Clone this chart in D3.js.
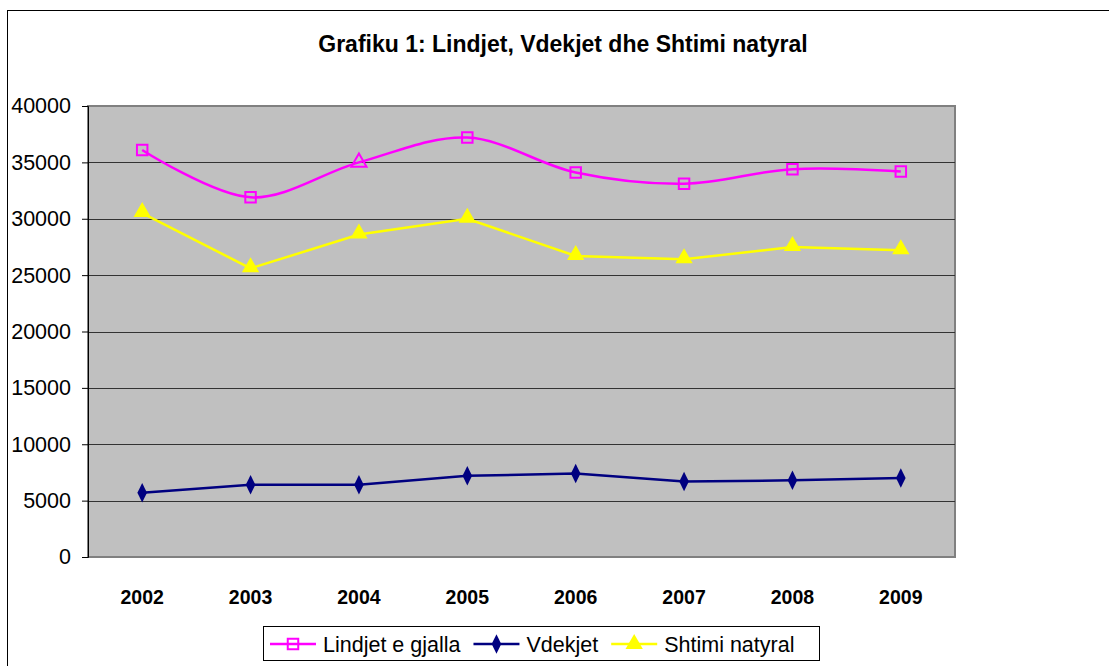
<!DOCTYPE html>
<html lang="en">
<head>
<meta charset="UTF-8">
<title>Grafiku 1</title>
<script src="https://cdn.jsdelivr.net/npm/d3@7"></script>
<style>
  body { margin: 0; background: #fff; }
  text { font-family: Arial, "Liberation Sans", sans-serif; }
</style>
</head>
<body>
<div id="container"></div>
<script>
const years = ["2002", "2003", "2004", "2005", "2006", "2007", "2008", "2009"];
const lindjet = [36100, 31900, 35000, 37200, 34100, 33100, 34400, 34200];
const vdekjet = [5700, 6400, 6400, 7200, 7400, 6700, 6800, 7000];
const shtimi = [30500, 25600, 28600, 30000, 26700, 26400, 27500, 27200];
const yTicks = [0, 5000, 10000, 15000, 20000, 25000, 30000, 35000, 40000];
const seriesNames = ["Lindjet e gjalla", "Vdekjet", "Shtimi natyral"];

const W = 1109, H = 666;
const plot = { left: 88, top: 106, right: 955, bottom: 557 };

const svg = d3.select("#container").append("svg")
  .attr("width", W).attr("height", H);

// outer frame
svg.append("rect")
  .attr("x", 7.5).attr("y", 10.5)
  .attr("width", W + 10).attr("height", H + 10)
  .attr("fill", "#fff").attr("stroke", "#000").attr("stroke-width", 1);

svg.append("text")
  .attr("x", 563).attr("y", 52)
  .attr("text-anchor", "middle")
  .attr("font-size", 23).attr("font-weight", "bold")
  .text("Grafiku 1: Lindjet, Vdekjet dhe Shtimi natyral");

const x = d3.scalePoint().domain(years)
  .range([plot.left, plot.right]).padding(0.5);
const y = d3.scaleLinear().domain([0, 40000])
  .range([plot.bottom, plot.top]);

// plot area
svg.append("rect")
  .attr("x", plot.left).attr("y", plot.top)
  .attr("width", plot.right - plot.left).attr("height", plot.bottom - plot.top)
  .attr("fill", "#c0c0c0").attr("stroke", "#808080").attr("stroke-width", 2);

// gridlines
svg.append("g").selectAll("line")
  .data(yTicks.filter(d => d > 0 && d < 40000))
  .enter().append("line")
  .attr("x1", plot.left).attr("x2", plot.right)
  .attr("y1", d => Math.round(y(d)) + 0.5).attr("y2", d => Math.round(y(d)) + 0.5)
  .attr("stroke", "#333").attr("stroke-width", 1);

// y axis
const yAxis = svg.append("g")
  .attr("transform", `translate(${plot.left},0)`)
  .call(d3.axisLeft(y).tickValues(yTicks).tickSize(6).tickPadding(11).tickFormat(d3.format("d")));
yAxis.selectAll("text").attr("font-size", 21.5).attr("fill", "#000")
  .attr("font-family", "Arial, 'Liberation Sans', sans-serif");
yAxis.selectAll("line, path").attr("stroke", "#000");

// x labels
svg.append("g").selectAll("text")
  .data(years).enter().append("text")
  .attr("x", d => x(d)).attr("y", 604)
  .attr("text-anchor", "middle")
  .attr("font-size", 19.5).attr("font-weight", "bold")
  .text(d => d);

const colors = ["#ff00ff", "#000080", "#ffff00"];

const smooth = d3.line().x((d, i) => x(years[i])).y(d => y(d)).curve(d3.curveCatmullRom.alpha(0.5));
const straight = d3.line().x((d, i) => x(years[i])).y(d => y(d));

svg.append("path").attr("d", smooth(lindjet))
  .attr("fill", "none").attr("stroke", colors[0]).attr("stroke-width", 2.5);
svg.append("path").attr("d", straight(vdekjet))
  .attr("fill", "none").attr("stroke", colors[1]).attr("stroke-width", 2.5);
svg.append("path").attr("d", straight(shtimi))
  .attr("fill", "none").attr("stroke", colors[2]).attr("stroke-width", 2.5);

const sq = d3.symbol().type(d3.symbolSquare).size(110);
const dia = d3.symbol().type(d3.symbolDiamond).size(110);
const tri = d3.symbol().type(d3.symbolTriangle).size(130);
const triSmall = d3.symbol().type(d3.symbolTriangle).size(100);

// markers
svg.append("g").selectAll("path")
  .data(lindjet).enter().append("path")
  .attr("transform", (d, i) => `translate(${x(years[i])},${y(d)})`)
  .attr("d", (d, i) => i === 2 ? triSmall() : sq())
  .attr("fill", "none").attr("stroke", colors[0]).attr("stroke-width", 2);
svg.append("g").selectAll("path")
  .data(vdekjet).enter().append("path")
  .attr("transform", (d, i) => `translate(${x(years[i])},${y(d)}) scale(0.85,1)`)
  .attr("d", dia()).attr("fill", colors[1]);
svg.append("g").selectAll("path")
  .data(shtimi).enter().append("path")
  .attr("transform", (d, i) => `translate(${x(years[i])},${y(d) - 1})`)
  .attr("d", tri()).attr("fill", colors[2]);

// legend
const lg = svg.append("g");
lg.append("rect").attr("x", 263.5).attr("y", 626.5).attr("width", 556).attr("height", 34)
  .attr("fill", "#fff").attr("stroke", "#000");
const legendSym = [sq, dia, tri];
let lx = 270;
seriesNames.forEach((name, i) => {
  const g = lg.append("g").attr("transform", `translate(${lx},644)`);
  g.append("line").attr("x1", 0).attr("x2", 46).attr("y1", 0).attr("y2", 0)
    .attr("stroke", colors[i]).attr("stroke-width", 2.5);
  g.append("path").attr("transform", i === 1 ? "translate(23,0) scale(0.85,1)" : "translate(23,0)")
    .attr("d", legendSym[i]())
    .attr("fill", i === 0 ? "none" : colors[i])
    .attr("stroke", i === 0 ? colors[i] : "none").attr("stroke-width", 2);
  const t = g.append("text").attr("x", 53).attr("y", 8)
    .attr("font-size", 21.5).text(name);
  lx += 53 + t.node().getComputedTextLength() + 13;
});
</script>
</body>
</html>
